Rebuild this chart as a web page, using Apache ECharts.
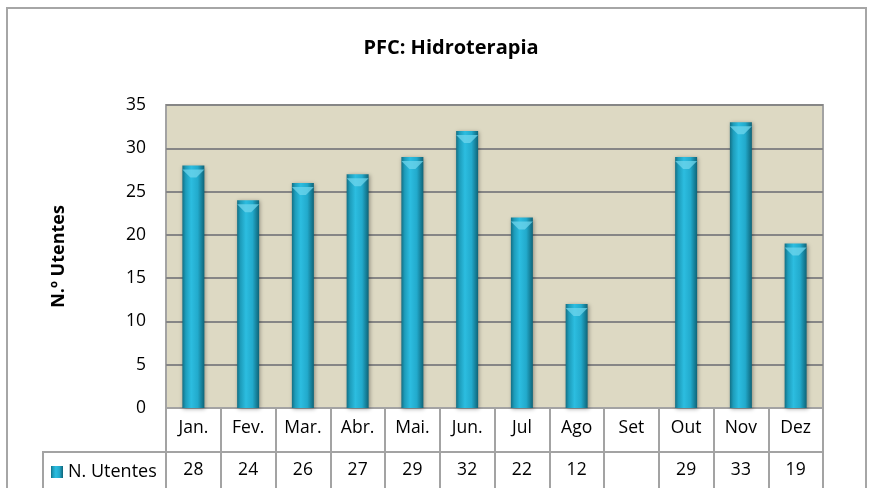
<!DOCTYPE html>
<html>
<head>
<meta charset="utf-8">
<script src="https://cdn.jsdelivr.net/npm/echarts@6/dist/echarts.min.js"></script>
<style>
  html, body { margin: 0; padding: 0; background: #fff; }
  #chart { width: 869px; height: 488px; }
</style>
</head>
<body>
<div id="chart"></div>
<script>
// data
const months = ['Jan.', 'Fev.', 'Mar.', 'Abr.', 'Mai.', 'Jun.', 'Jul', 'Ago', 'Set', 'Out', 'Nov', 'Dez']
const utentes = [28, 24, 26, 27, 29, 32, 22, 12, null, 29, 33, 19]
const seriesName = 'N. Utentes'

const FONT = '"Open Sans", "Noto Sans", sans-serif'
const LINE = '#a3a3a3'

const chart = echarts.init(document.getElementById('chart'))

const barColor = new echarts.graphic.LinearGradient(0, 0, 1, 0, [
  { offset: 0, color: '#136f84' },
  { offset: 0.15, color: '#1d9cba' },
  { offset: 0.4, color: '#2cbde0' },
  { offset: 0.7, color: '#22aacc' },
  { offset: 1, color: '#0e6478' }
])

chart.setOption({
  backgroundColor: '#fff',
  animation: false,
  title: {
    text: 'PFC: Hidroterapia',
    left: 446,
    top: 33,
    textAlign: 'center',
    textStyle: { fontFamily: FONT, fontSize: 20, fontWeight: 'bold', color: '#000' }
  },
  legend: {
    left: 46,
    top: 458,
    icon: 'rect',
    itemWidth: 12,
    itemHeight: 12,
    itemGap: 6,
    selectedMode: false,
    textStyle: { fontFamily: FONT, fontSize: 18, color: '#000' },
    data: [seriesName]
  },
  grid: {
    left: 166,
    right: 46,
    top: 105,
    bottom: 80,
    show: true,
    backgroundColor: '#ddd9c3',
    borderColor: LINE,
    borderWidth: 2
  },
  xAxis: [{
    type: 'category',
    data: months,
    position: 'bottom',
    axisLine: { show: true, lineStyle: { color: LINE, width: 2 } },
    axisTick: { show: true, interval: 0, length: 82, lineStyle: { color: LINE, width: 2 } },
    axisLabel: { interval: 0, margin: 11, fontFamily: FONT, fontSize: 17.5, color: '#000' },
    splitLine: { show: false }
  }, {
    type: 'category',
    data: months,
    position: 'bottom',
    offset: 44,
    axisLine: { show: true, lineStyle: { color: LINE, width: 2 } },
    axisTick: { show: false },
    axisLabel: {
      interval: 0,
      margin: 9,
      fontFamily: FONT,
      fontSize: 17.5,
      color: '#000',
      formatter: (v, i) => (utentes[i] == null ? '' : String(utentes[i]))
    },
    splitLine: { show: false }
  }],
  yAxis: {
    type: 'value',
    min: 0,
    max: 35,
    interval: 5,
    name: 'N.º Utentes',
    nameLocation: 'middle',
    nameRotate: 90,
    nameGap: 98,
    nameTextStyle: { fontFamily: FONT, fontSize: 18, fontWeight: 'bold', color: '#000' },
    axisLine: { show: false },
    axisTick: { show: false },
    axisLabel: { margin: 20, fontFamily: FONT, fontSize: 17.5, color: '#000' },
    splitLine: { show: true, lineStyle: { color: '#868686', width: 2 } }
  },
  graphic: [
    // outer chart frame
    { type: 'rect', shape: { x: 7, y: 8, width: 859, height: 490 }, style: { fill: null, stroke: '#a6a6a6', lineWidth: 2 }, silent: true },
    // legend cell of the data table
    { type: 'polyline', shape: { points: [[43, 490], [43, 452], [166, 452]] }, style: { fill: null, stroke: LINE, lineWidth: 2 }, silent: true }
  ],
  series: [{
    name: seriesName,
    type: 'bar',
    xAxisIndex: 0,
    barWidth: 22,
    data: utentes,
    itemStyle: {
      color: barColor,
      shadowColor: 'rgba(0,0,0,0.35)',
      shadowBlur: 4,
      shadowOffsetX: 1,
      shadowOffsetY: 1
    }
  }, {
    // bevelled cap on top of each bar
    name: 'cap',
    type: 'pictorialBar',
    xAxisIndex: 0,
    data: utentes,
    symbol: 'path://M0,0 L22,0 L14,8 L8,8 Z',
    symbolSize: [22, 8],
    symbolPosition: 'end',
    symbolOffset: [0, '50%'],
    z: 3,
    silent: true,
    itemStyle: { color: '#6fd6ec', opacity: 0.75 }
  }]
})
</script>
</body>
</html>
